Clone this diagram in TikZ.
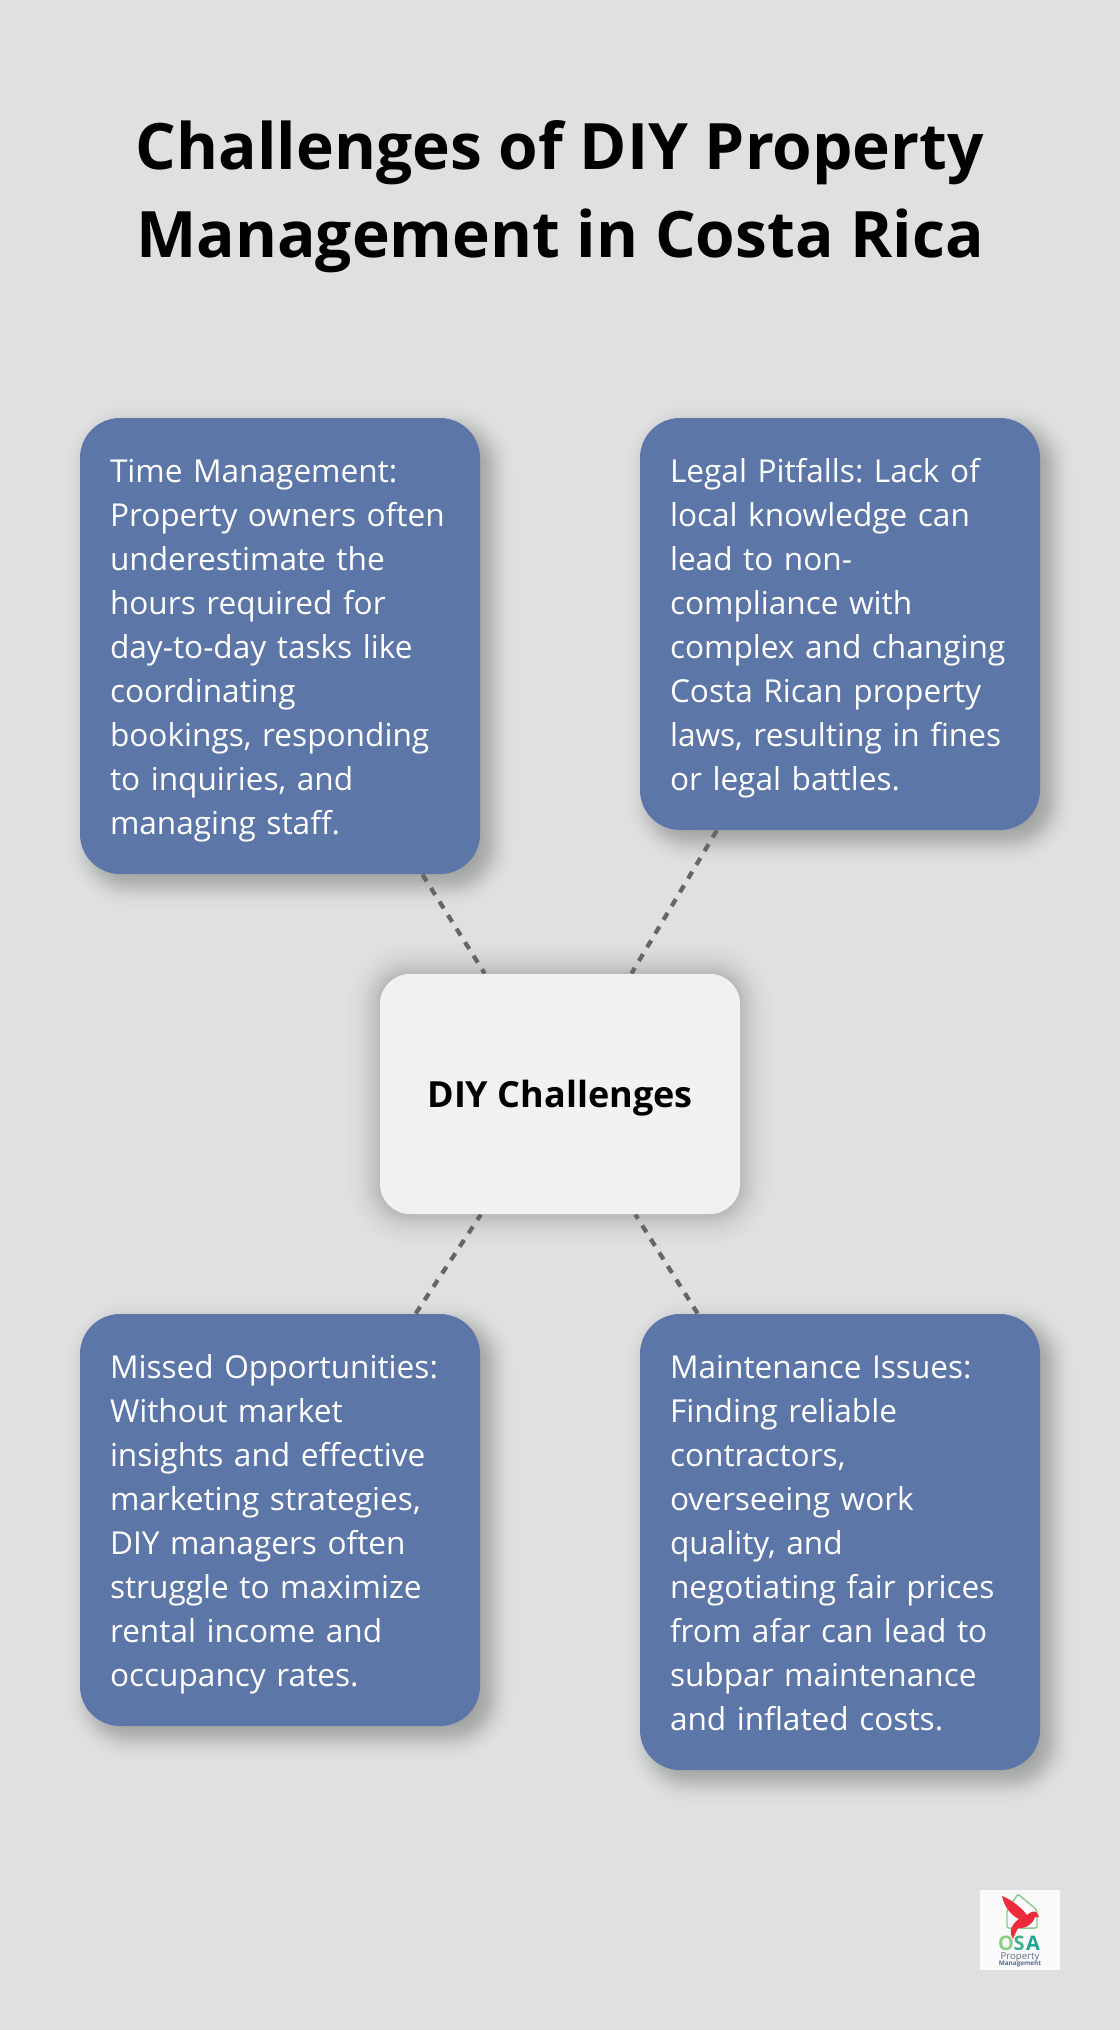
\documentclass[tikz,border=0pt]{standalone}
\usepackage{fontspec}
\setmainfont{Open Sans}
\usetikzlibrary{backgrounds}

\definecolor{pagegray}{HTML}{DFE1E0}
\definecolor{cardblue}{HTML}{5D76A8}
\definecolor{hubgray}{HTML}{EFF1F3}
\definecolor{dashgray}{HTML}{666666}
\definecolor{logogreen}{HTML}{8CCB8A}
\definecolor{logoteal}{HTML}{1FA58F}
\definecolor{logored}{HTML}{EE2B3B}
\definecolor{logoslate}{HTML}{5A6B85}

\newcommand{\cardstrut}{\rule[-7.5pt]{0pt}{33pt}}

\tikzset{
  every picture/.style={line width=0.75pt},
  card/.style={fill=cardblue,text=white,rounded corners=30pt,inner sep=22.5pt,text width=255pt,align=left,minimum width=300pt,font=\fontsize{23.7}{33}\selectfont\frenchspacing,execute at begin node=\cardstrut,execute at end node=\cardstrut},
  hub/.style={fill=hubgray,rounded corners=22.5pt,minimum width=270pt,minimum height=180pt,text height=20.5pt,text depth=0pt,font=\fontsize{27}{36}\selectfont\bfseries},
  link/.style={draw=dashgray,line width=3.2pt,dash pattern=on 6pt off 6pt},
}

\begin{document}
\begin{tikzpicture}[x=0.75pt,y=0.75pt,yscale=-1,xscale=1]

\node (title) at (560,197) [align=center,font=\fontsize{48}{66}\selectfont\bfseries] {Challenges of DIY Property\\Management in Costa Rica};

\node (time) at (280,646) [card] {Time Management:\\Property owners often\\underestimate the\\hours required for\\day-to-day tasks like\\coordinating\\bookings, responding\\to inquiries, and\\managing staff.};
\node (legal) at (840,624) [card] {Legal Pitfalls: Lack of\\local knowledge can\\lead to non-\\compliance with\\complex and changing\\Costa Rican property\\laws, resulting in fines\\or legal battles.};
\node (hub) at (560,1094) [hub] {DIY Challenges};
\node (missed) at (280,1520) [card] {Missed Opportunities:\\Without market\\insights and effective\\marketing strategies,\\DIY managers often\\struggle to maximize\\rental income and\\occupancy rates.};
\node (upkeep) at (840,1542) [card] {Maintenance Issues:\\Finding reliable\\contractors,\\overseeing work\\quality, and\\negotiating fair prices\\from afar can lead to\\subpar maintenance\\and inflated costs.};

\begin{scope}[on background layer]
\fill [pagegray] (0,0) rectangle (1120,2030) ;
\foreach \n in {time,legal,missed,upkeep} {
  \foreach \s in {-30,-28,...,30} {
    \pgfmathsetmacro{\layeralpha}{0.02*exp(-\s*\s/288)}
    \fill [black,opacity=\layeralpha,rounded corners={0.75pt*(40+\s)}] ([shift={(10-\s,10-\s)}]\n.north west) rectangle ([shift={(10+\s,10+\s)}]\n.south east) ;
  }
}
\foreach \s in {-10,-8,...,40} {
  \pgfmathsetmacro{\layeralpha}{0.015*exp(-\s*\s/512)}
  \fill [black,opacity=\layeralpha,rounded corners={0.75pt*(30+\s)}] ([shift={(-\s,-\s)}]hub.north west) rectangle ([shift={(\s,\s)}]hub.south east) ;
}
\draw [link] (time) -- (hub) ;
\draw [link] (legal) -- (hub) ;
\draw [link] (missed) -- (hub) ;
\draw [link] (upkeep) -- (hub) ;
\end{scope}

\node (logo) at (1020,1930) [fill=white,fill opacity=0.85,minimum width=60pt,minimum height=60pt,inner sep=0pt] {};
\draw [logogreen,line width=1.1pt,line join=round,rounded corners=1.5pt] (1007,1928) -- (1007,1910) -- (1018,1894) -- (1037,1910) -- (1037,1928) -- cycle ;
\fill [logored] (1002,1896) .. controls (1010,1899) and (1020,1906) .. (1027,1915) .. controls (1030,1912) and (1035,1910) .. (1037,1913) -- (1039,1917) -- (1035,1917) .. controls (1033,1924) and (1025,1929) .. (1018,1928) .. controls (1016,1932) and (1014,1936) .. (1013,1939) .. controls (1009,1934) and (1010,1925) .. (1019,1919) .. controls (1012,1916) and (1004,1907) .. (1002,1896) -- cycle ;
\node (logoO) at (1006,1943) [inner sep=0pt,text=logogreen,font=\fontsize{15}{15}\selectfont\bfseries] {O};
\node (logoS) at (1019,1943) [inner sep=0pt,text=logoteal!70!logogreen,font=\fontsize{15}{15}\selectfont\bfseries] {S};
\node (logoA) at (1033,1943) [inner sep=0pt,text=logoteal,font=\fontsize{15}{15}\selectfont\bfseries] {A};
\node (logoP) at (1020,1957) [inner sep=0pt,text=logoslate,font=\fontsize{7.2}{8}\selectfont] {Property};
\node (logoM) at (1020,1964) [inner sep=0pt,text=logoslate,font=\fontsize{4.8}{5}\selectfont\bfseries] {Management};

\end{tikzpicture}
\end{document}
